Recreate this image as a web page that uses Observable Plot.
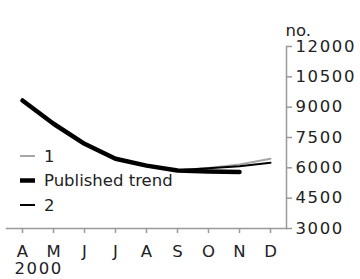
<!DOCTYPE html>
<html>
<head>
<meta charset="utf-8">
<script src="https://cdn.jsdelivr.net/npm/d3@7"></script>
<script src="https://cdn.jsdelivr.net/npm/@observablehq/plot@0.6"></script>
<style>
  html, body { margin: 0; padding: 0; background: #fff; }
  #chart { position: relative; width: 360px; height: 279px; }
  svg { font-family: "DejaVu Sans", sans-serif; }
  g[aria-label="y-axis tick label"] text { letter-spacing: 1.6px; }
  g.year text { letter-spacing: 1.6px; }
</style>
</head>
<body>
<div id="chart"></div>
<script>
const months = ["A", "M", "J", "J ", "A ", "S", "O", "N", "D"];
const yearLabel = "2000";
const unitLabel = "no.";
const yTicks = [3000, 4500, 6000, 7500, 9000, 10500, 12000];

const series1 = [9330, 8180, 7190, 6450, 6110, 5880, 5990, 6165, 6447];
const publishedTrend = [9330, 8180, 7190, 6450, 6110, 5870, 5820, 5800];
const series2 = [9330, 8180, 7190, 6450, 6110, 5880, 5975, 6080, 6250];

const legendItems = [
  {label: "1", color: "#a6a6a6", width: 2},
  {label: "Published trend", color: "#000", width: 4.5},
  {label: "2", color: "#000", width: 2}
];

const toRows = (vals, name) => vals.map((v, i) => ({month: months[i], value: v, series: name}));
const rows1 = toRows(series1, "1");
const rowsT = toRows(publishedTrend, "Published trend");
const rows2 = toRows(series2, "2");

const W = 360, H = 279;
const plot = Plot.plot({
  width: W,
  height: H,
  marginLeft: 6,
  marginRight: 74,
  marginTop: 46,
  marginBottom: 51,
  style: {fontFamily: "DejaVu Sans, sans-serif", fontSize: "16.5px", color: "#222", background: "#fff", overflow: "visible"},
  x: {type: "point", domain: months, padding: 0.5},
  y: {domain: [3000, 12000]},
  marks: [
    Plot.frame({anchor: "bottom", stroke: "#999", strokeWidth: 1.5}),
    Plot.frame({anchor: "right", stroke: "#999", strokeWidth: 1.5}),
    Plot.axisX({tickSize: 5, tickPadding: 12, stroke: "#999", fill: "#222", strokeWidth: 1.5,
      tickFormat: d => d.trim(), label: null}),
    Plot.axisY({anchor: "right", ticks: yTicks, tickSize: 5, tickPadding: 4, stroke: "#999", fill: "#222",
      strokeWidth: 1.5, tickFormat: d => String(d), label: null}),
    Plot.line(rows1, {x: "month", y: "value", stroke: "#a6a6a6", strokeWidth: 2}),
    Plot.line(rows2, {x: "month", y: "value", stroke: "#000", strokeWidth: 2}),
    Plot.line(rowsT, {x: "month", y: "value", stroke: "#000", strokeWidth: 4.5}),
    Plot.text([yearLabel], {frameAnchor: "bottom-left", text: d => d, dx: 8, dy: 45, textAnchor: "start", fill: "#222", fontSize: 16.5, className: "year"}),
    Plot.text([unitLabel], {frameAnchor: "top-right", text: d => d, dx: -1, dy: -22, textAnchor: "start", fill: "#222", fontSize: 16.5})
  ]
});
document.getElementById("chart").appendChild(plot);

// legend inside the plot area
const svg = d3.select(plot);
const lg = svg.append("g").attr("class", "legend").attr("text-anchor", "start");
legendItems.forEach((it, i) => {
  const y = 156 + i * 24.5;
  lg.append("line").attr("x1", 20).attr("x2", 35).attr("y1", y).attr("y2", y)
    .attr("stroke", it.color).attr("stroke-width", it.width);
  lg.append("text").attr("x", 44).attr("y", y).attr("dy", "0.36em")
    .attr("text-anchor", "start")
    .attr("fill", "#222").attr("font-size", 16.5).text(it.label);
});
</script>
</body>
</html>
